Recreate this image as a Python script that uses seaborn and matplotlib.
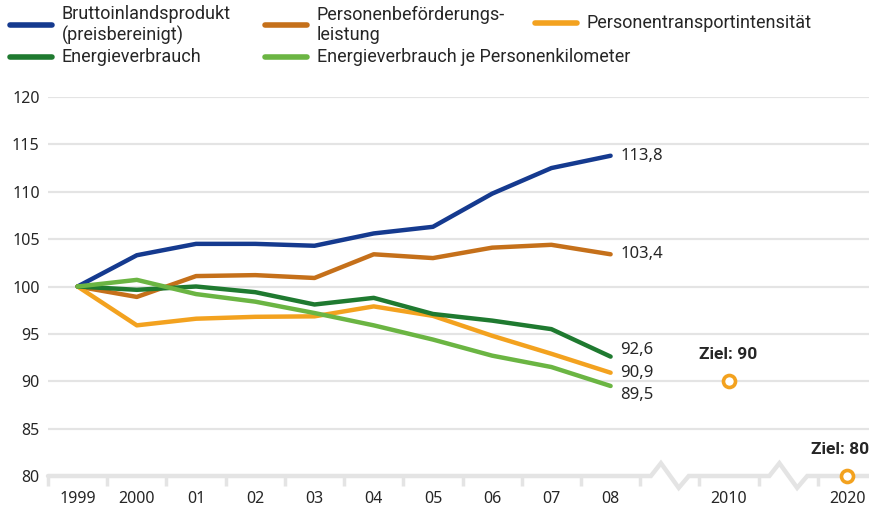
import pandas as pd
import matplotlib.pyplot as plt
import seaborn as sns
from matplotlib.lines import Line2D

# Index values, 1999 = 100
years = ["1999", "2000", "01", "02", "03", "04", "05", "06", "07", "08"]
bip = [100, 103.3, 104.5, 104.5, 104.3, 105.6, 106.3, 109.8, 112.5, 113.8]
personen = [100, 98.9, 101.1, 101.2, 100.9, 103.4, 103.0, 104.1, 104.4, 103.4]
intensitaet = [100, 95.9, 96.6, 96.8, 96.85, 97.9, 96.9, 94.8, 92.9, 90.9]
energie = [100, 99.65, 100.0, 99.4, 98.1, 98.8, 97.1, 96.4, 95.5, 92.6]
energie_pkm = [100, 100.7, 99.2, 98.4, 97.2, 95.9, 94.4, 92.7, 91.5, 89.5]
end_labels = ["113,8", "103,4", "90,9", "92,6", "89,5"]

target_years = ["2010", "2020"]
target_values = [90, 80]
target_labels = ["Ziel: 90", "Ziel: 80"]

series_names = ["Bruttoinlandsprodukt\n(preisbereinigt)", "Personenbeförderungs-\nleistung",
                "Personentransportintensität", "Energieverbrauch",
                "Energieverbrauch je Personenkilometer"]
series_values = [bip, personen, intensitaet, energie, energie_pkm]
colors = ["#153a8f", "#c5701a", "#f3a21f", "#1f7a30", "#6bb543"]

# category slots: 10 years, break, 2010, break, 2020
tick_texts = years + ["", target_years[0], "", target_years[1]]
target_pos = [tick_texts.index(t) for t in target_years]
break_pos = [10, 12]

rows = []
for name, vals in zip(series_names, series_values):
    for i, v in enumerate(vals):
        rows.append({"series": name, "pos": i, "value": v})
df = pd.DataFrame(rows)

sns.set_style("white")
plt.rcParams["font.family"] = ["Noto Sans", "DejaVu Sans"]
text_col = "#262626"
grid_col = "#e4e4e4"

fig = plt.figure(figsize=(8.7, 5.11), dpi=100)
ax = fig.add_axes([48 / 870, 1 - 476 / 511, 1 - 48 / 870, (476 - 97) / 511])

# gridlines
for g in range(85, 121, 5):
    ax.axhline(g, color=grid_col, lw=1.6, zorder=0)

# baseline with axis breaks
xlo, xhi = -0.5, 13.38
bx, by = [xlo], [80]
for b in break_pos:
    bx += [b - 0.32, b - 0.15, b + 0.15, b + 0.32]
    by += [80, 81.35, 78.75, 80]
bx.append(xhi)
by.append(80)
ax.plot(bx, by, color=grid_col, lw=3.2, zorder=1, clip_on=False, solid_joinstyle="miter")

palette = dict(zip(series_names, colors))
sns.lineplot(data=df, x="pos", y="value", hue="series", palette=palette,
             linewidth=3.2, legend=False, ax=ax, zorder=3,
             solid_capstyle="round", solid_joinstyle="round")

# end labels
offsets = [0, 0, -0.5, 5, -6.5]
for vals, lab, dy in zip(series_values, end_labels, offsets):
    ax.annotate(lab, (len(vals) - 1, vals[-1]), xytext=(7, dy), textcoords="offset points",
                ha="left", va="center", fontsize=12, color=text_col)

# targets
sns.scatterplot(x=target_pos, y=target_values, ax=ax, s=75, marker="o",
                facecolor="white", edgecolor="#f3a21f", linewidth=2.6,
                zorder=6, clip_on=False)
for p, v, lab, dx in zip(target_pos, target_values, target_labels, [-1, -5]):
    ax.annotate(lab, (p, v), xytext=(dx, 19), textcoords="offset points",
                ha="center", va="center", fontsize=12.5, fontweight="bold",
                color=text_col, family=["Roboto", "DejaVu Sans"])

ax.set_xlim(xlo, xhi)
ax.set_ylim(80, 120)
ax.set_yticks(range(80, 121, 5))
ax.set_xticks(range(len(tick_texts)))
ax.set_xticklabels(tick_texts)
ax.set_xticks([x - 0.5 for x in range(len(tick_texts))], minor=True)
ax.tick_params(axis="x", which="major", bottom=True, length=0, pad=11, labelsize=11.5,
               labelcolor=text_col)
ax.tick_params(axis="x", which="minor", bottom=True, length=7.5, width=2.5, color=grid_col,
               direction="out")
ax.tick_params(axis="y", length=0, pad=6, labelsize=11.5, labelcolor=text_col)
ax.set_xlabel("")
ax.set_ylabel("")
for s in ax.spines.values():
    s.set_visible(False)

# legend drawn in pixel positions
leg_items = [(0, 10, 25), (1, 265, 25), (2, 535, 23), (3, 10, 57), (4, 265, 57)]
for idx, x0, y0 in leg_items:
    yf = 1 - y0 / 511
    fig.add_artist(Line2D([x0 / 870, (x0 + 42) / 870], [yf, yf], color=colors[idx],
                          lw=4, solid_capstyle="round", transform=fig.transFigure))
    fig.text((x0 + 52) / 870, yf, series_names[idx], ha="left", va="center",
             fontsize=13, color=text_col, family=["Roboto", "DejaVu Sans"], linespacing=1.2)

fig.savefig("out.png", dpi=100)
